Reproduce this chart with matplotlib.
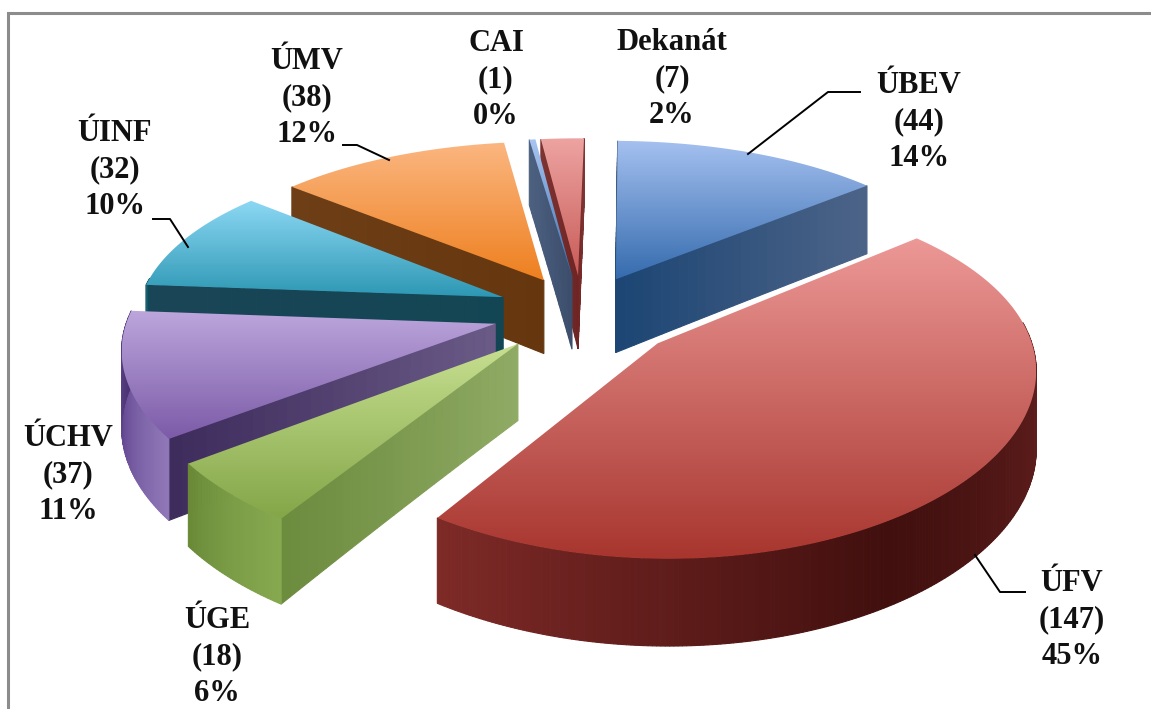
import numpy as np
import matplotlib
matplotlib.use("Agg")
import matplotlib.pyplot as plt
from matplotlib.colors import LinearSegmentedColormap, to_rgb
from matplotlib.patches import Polygon, Rectangle

plt.rcParams['font.family'] = ['Liberation Serif', 'DejaVu Serif']

# data
names = ["ÚBEV", "ÚFV", "ÚGE", "ÚCHV", "ÚINF", "ÚMV", "CAI", "Dekanát"]
counts = [44, 147, 18, 37, 32, 38, 1, 7]
percents = [14, 45, 6, 11, 10, 12, 0, 2]

# styles: explosion, top face colours, wall colours (tip to rim), rim colours
explode = [0.22, 0.27, 0.25, 0.245, 0.235, 0.22, 0.22, 0.22]
top_light = ["#A4C0F0", "#EC9896", "#C6DF90", "#BCA6DC", "#8CD8F4", "#FBB680", "#A9C4F0", "#EDA3A1"]
top_dark = ["#366CAE", "#A8362F", "#84A648", "#7C5BA8", "#2E98B4", "#EE8020", "#3A70B0", "#C85C58"]
wall_a = ["#1D4674", "#6E1F1C", "#8FAA64", "#6A5A86", "#134654", "#66360E", "#3C4E6C", "#6E2422"]
wall_b = ["#4C6388", "#7C2E2B", "#6C8C3E", "#3E2C5C", "#1A4556", "#6E3E16", "#4C6080", "#7C3432"]
rim_a = ["#3C5A85", "#6A2422", "#86A84E", "#9078B8", "#1E6878", "#8A4A14", "#3C5A85", "#7E2A27"]
rim_m = ["#3C5A85", "#400F0E", "#7A9C46", "#6A4E98", "#185868", "#7A4010", "#3C5A85", "#6E2422"]
rim_b = ["#3C5A85", "#7E2A27", "#6A8A38", "#4A3270", "#0F4A58", "#6A3208", "#3C5A85", "#5E1A18"]

# label anchors in picture pixels, and leader lines
label_pos = [(919, 122), (1072, 620), (217, 657), (68, 475), (115, 170), (307, 98), (496, 80), (672, 79)]
leaders = [
    [(860, 92), (828, 92), (748, 154)],
    [(1025, 592), (1000, 592), (975, 555)],
    [(153, 219), (170, 219), (188, 247)],
    [(343, 145), (357, 145), (389, 160)],
]

W, H = 1151, 709
cx, cy = 582, 312
Rx, Ry = 366, 170
persp_x, persp_y, persp_z = 0.123, 0.159, 0.12
depth = 75
start_angle = np.deg2rad(1.0)


def project(x, y, z):
    sx = 1 / (1 + persp_x * y)
    sy = 1 / (1 + persp_y * y)
    sz = 1 / (1 + persp_z * y)
    return cx + Rx * sx * x, cy - Ry * sy * y - sz * z


def blend(c1, c2, t):
    a, b = np.array(to_rgb(c1)), np.array(to_rgb(c2))
    return a + (b - a) * t


def strip(ax, top_pts, bot_pts, cols, z):
    # wall drawn as many small quads so it gets a gradient
    n = len(top_pts) - 1
    for i in range(n):
        t = i / max(n - 1, 1)
        if len(cols) == 2:
            col = blend(cols[0], cols[1], t)
        elif t < 0.5:
            col = blend(cols[0], cols[1], t * 2)
        else:
            col = blend(cols[1], cols[2], t * 2 - 1)
        q = [top_pts[i], top_pts[i + 1], bot_pts[i + 1], bot_pts[i]]
        ax.add_patch(Polygon(q, closed=True, fc=col, ec=col, lw=0.8, zorder=z))


fig = plt.figure(figsize=(W / 100, H / 100), dpi=100)
ax = fig.add_axes([0, 0, 1, 1])
ax.set_xlim(0, W)
ax.set_ylim(H, 0)
ax.axis("off")

ax.add_patch(Rectangle((8, 13), W + 20, H + 20, fc="white", ec="#8C8C8C", lw=2.2, zorder=0))

total = sum(counts)
edges = start_angle + np.cumsum([0] + counts) / total * 2 * np.pi
mids = (edges[:-1] + edges[1:]) / 2

# back slices first
order = np.argsort(-np.cos(mids))
for rank, i in enumerate(order):
    z = 10 + rank * 3
    a0, a1 = edges[i], edges[i + 1]
    ox, oy = explode[i] * np.sin(mids[i]), explode[i] * np.cos(mids[i])
    th = np.linspace(a0, a1, max(int((a1 - a0) * 100), 3))
    rx, ry = ox + np.sin(th), oy + np.cos(th)

    rim_top = [project(a, b, 0) for a, b in zip(rx, ry)]
    rim_bot = [project(a, b, -depth) for a, b in zip(rx, ry)]
    tip_top = project(ox, oy, 0)

    # only the walls that face the viewer
    for end, seen in ((0, np.sin(a0) < 0.02), (-1, np.sin(a1) > 0)):
        if not seen:
            continue
        ts = np.linspace(0, 1, 30)
        wx = ox + (rx[end] - ox) * ts
        wy = oy + (ry[end] - oy) * ts
        strip(ax, [project(a, b, 0) for a, b in zip(wx, wy)],
              [project(a, b, -depth) for a, b in zip(wx, wy)],
              [wall_a[i], wall_b[i]], z)

    front = np.cos(th) < 0.12
    if front.sum() > 1:
        strip(ax, np.array(rim_top)[front], np.array(rim_bot)[front],
              [rim_a[i], rim_m[i], rim_b[i]], z + 1)

    # top face with a gradient clipped to the sector
    poly = np.array([tip_top] + rim_top)
    x0, y0 = poly.min(axis=0)
    x1, y1 = poly.max(axis=0)
    gx, gy = np.meshgrid(np.linspace(0, 1, 64), np.linspace(0, 1, 64))
    cmap = LinearSegmentedColormap.from_list("t", [top_light[i], top_dark[i]])
    im = ax.imshow(gy, cmap=cmap, extent=[x0, x1, y1, y0], aspect="auto",
                   zorder=z + 2, vmin=0, vmax=1, interpolation="bilinear")
    patch = Polygon(poly, closed=True, fc="none", ec="none", transform=ax.transData)
    ax.add_patch(patch)
    im.set_clip_path(patch)

ax.set_xlim(0, W)
ax.set_ylim(H, 0)

for i in range(len(names)):
    ax.text(label_pos[i][0], label_pos[i][1], f"{names[i]}\n({counts[i]})\n{percents[i]}%",
            ha="center", va="center", fontsize=22, fontweight="bold", linespacing=1.33,
            color="#111111", zorder=60)

for pts in leaders:
    ax.plot(*zip(*pts), color="black", lw=1.4, zorder=59)

fig.savefig("out.png", dpi=100)
